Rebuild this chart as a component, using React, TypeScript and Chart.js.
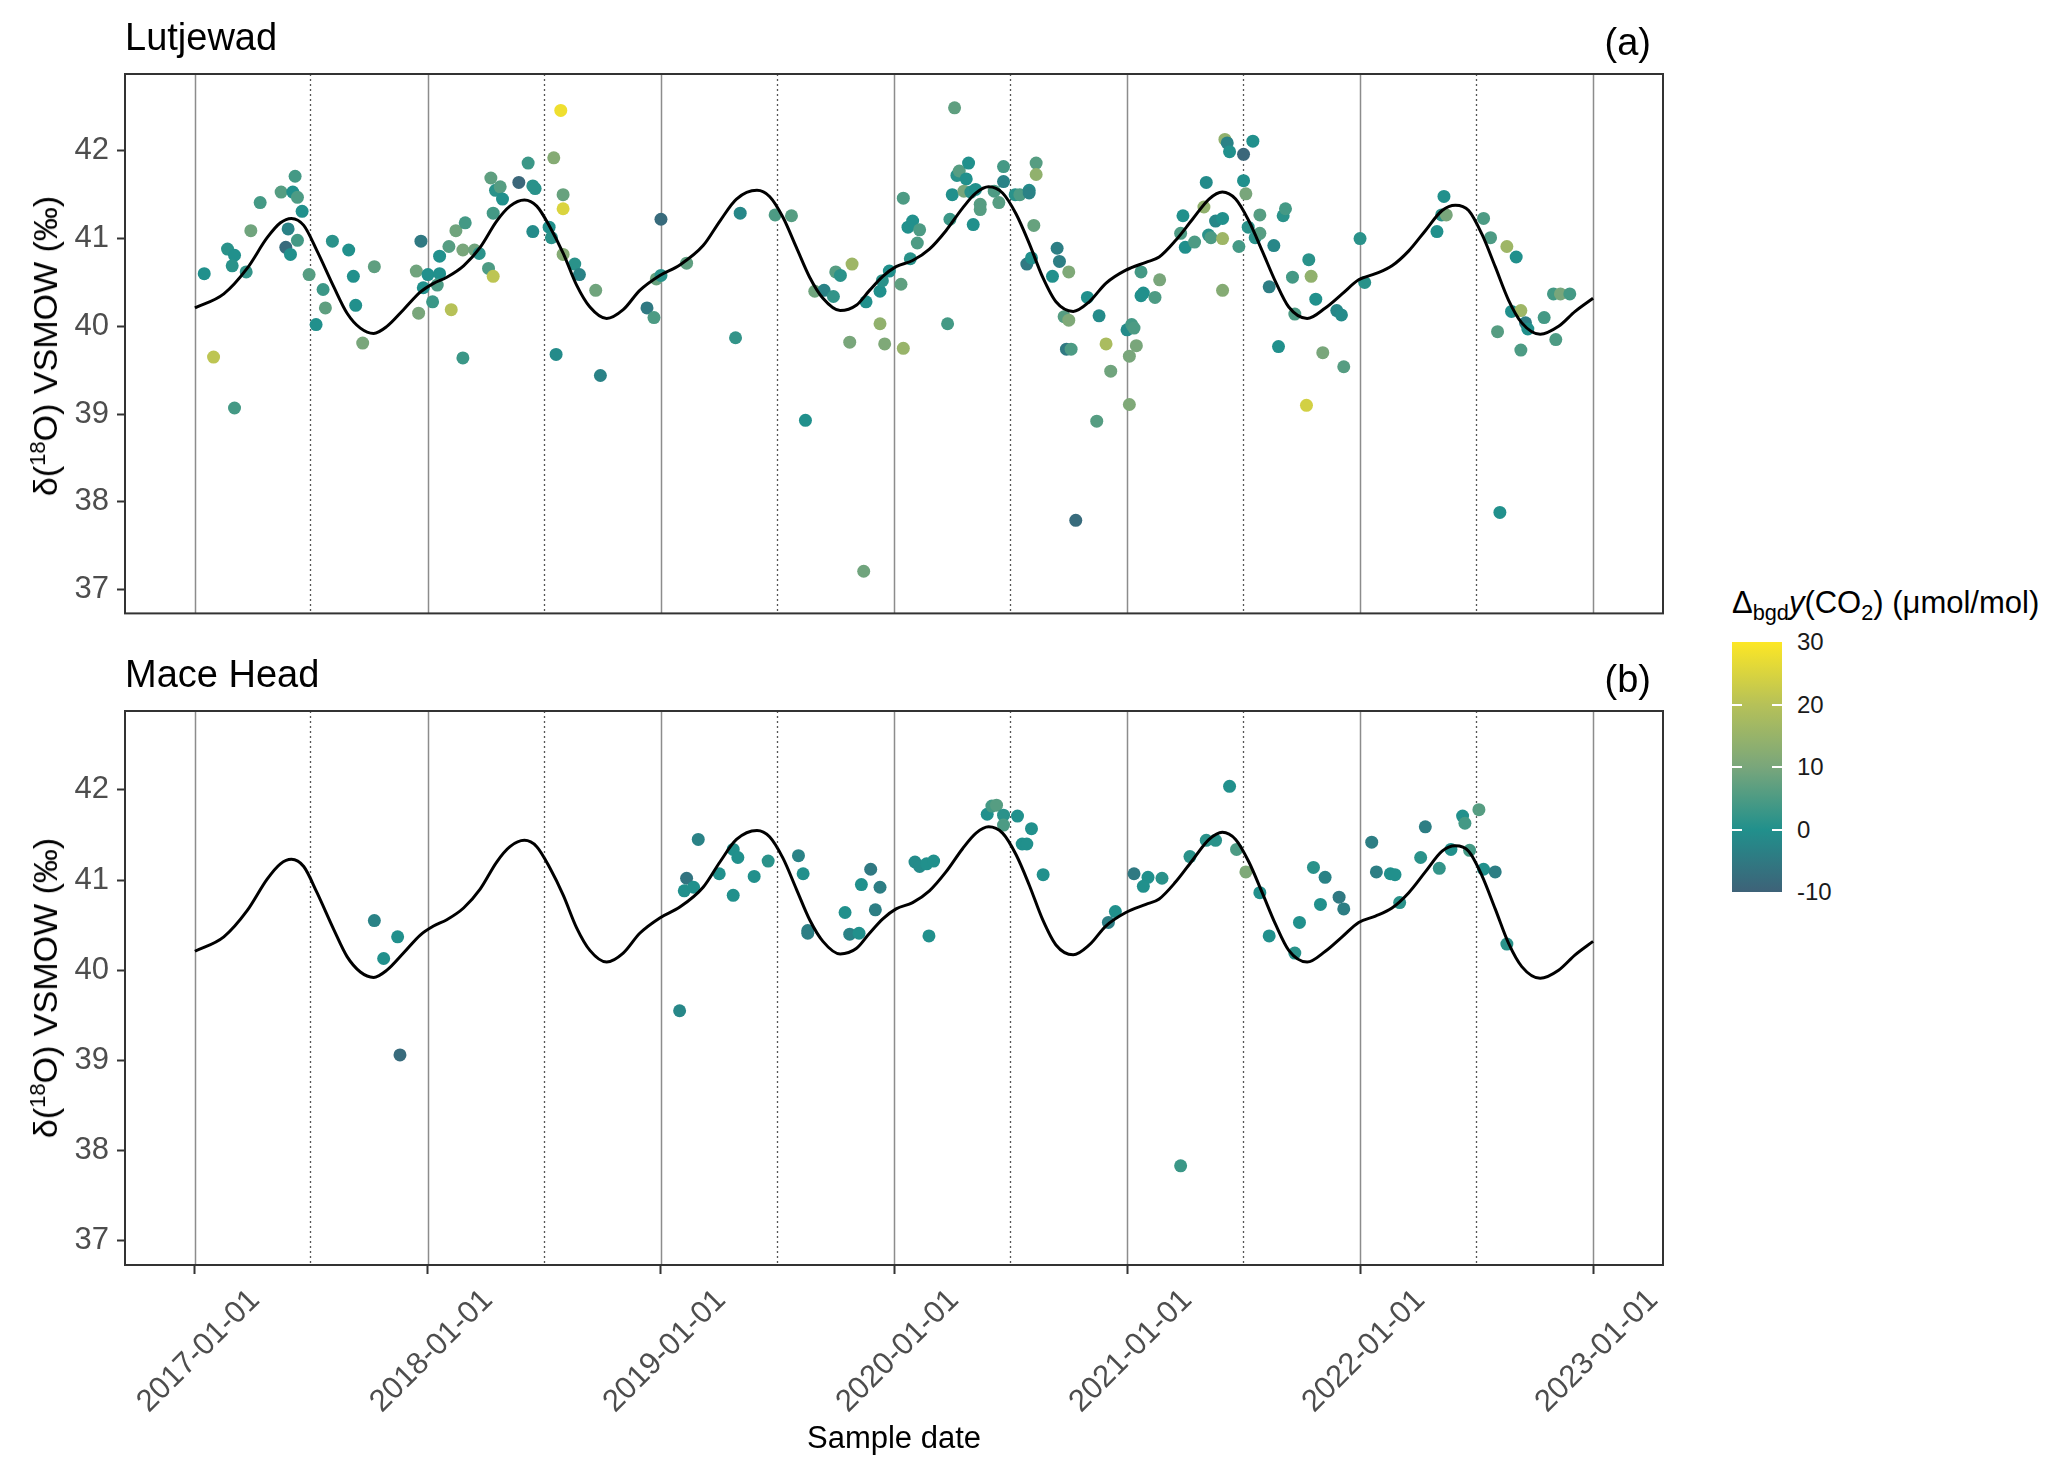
import { useEffect, useRef } from 'react';
import { Chart, registerables } from 'chart.js';

Chart.register(...registerables);

// axes
const yearTicks = [2017, 2018, 2019, 2020, 2021, 2022, 2023];
const midYearLines = [2017.496, 2018.496, 2019.496, 2020.496, 2021.496, 2022.496];
const valueTicks = [37, 38, 39, 40, 41, 42];
const legendTicks = [30, 20, 10, 0, -10];

// fitted curve (same in both panels)
const fitX = [
  2017.0, 2017.124, 2017.224, 2017.31, 2017.367, 2017.414, 2017.467, 2017.524, 2017.596, 2017.653, 2017.71, 2017.767,
  2017.824, 2017.895, 2017.967, 2018.024, 2018.081, 2018.153, 2018.224, 2018.295, 2018.352, 2018.414, 2018.467, 2018.524,
  2018.581, 2018.638, 2018.695, 2018.767, 2018.838, 2018.909, 2018.995, 2019.081, 2019.181, 2019.253, 2019.324, 2019.412,
  2019.466, 2019.524, 2019.581, 2019.638, 2019.695, 2019.769, 2019.838, 2019.895, 2019.952, 2020.009, 2020.08, 2020.152,
  2020.223, 2020.295, 2020.352, 2020.406, 2020.466, 2020.524, 2020.581, 2020.638, 2020.695, 2020.769, 2020.838, 2020.909,
  2020.995, 2021.081, 2021.138, 2021.209, 2021.281, 2021.352, 2021.409, 2021.466, 2021.523, 2021.58, 2021.637, 2021.694,
  2021.773, 2021.851, 2021.923, 2021.994, 2022.066, 2022.137, 2022.209, 2022.28, 2022.352, 2022.409, 2022.466, 2022.523,
  2022.58, 2022.637, 2022.694, 2022.773, 2022.852, 2022.923, 2023.0,
];
const fitY = [
  40.21, 40.37, 40.66, 41.01, 41.18, 41.23, 41.15, 40.86, 40.45, 40.15, 39.98, 39.92,
  40.0, 40.19, 40.39, 40.49, 40.56, 40.69, 40.9, 41.2, 41.37, 41.44, 41.37, 41.13,
  40.83, 40.47, 40.22, 40.09, 40.19, 40.41, 40.58, 40.7, 40.92, 41.2, 41.45, 41.55,
  41.48, 41.24, 40.9, 40.56, 40.32, 40.18, 40.24, 40.41, 40.57, 40.68, 40.75, 40.88,
  41.09, 41.35, 41.52, 41.59, 41.52, 41.28, 40.94, 40.56, 40.28, 40.17, 40.28, 40.49,
  40.64, 40.73, 40.79, 40.98, 41.22, 41.45, 41.53, 41.45, 41.2, 40.86, 40.51, 40.22,
  40.09, 40.21, 40.37, 40.53, 40.6, 40.69, 40.86, 41.09, 41.32, 41.38, 41.32, 41.05,
  40.68, 40.3, 40.04, 39.91, 40.0, 40.17, 40.32,
];

// Lutjewad samples: date (decimal year), d18O, background CO2 enhancement
const lutX = [
  2017.04, 2017.08, 2017.14, 2017.17, 2017.16, 2017.17, 2017.22, 2017.24, 2017.28, 2017.37, 2017.42, 2017.43, 2017.44,
  2017.46, 2017.4, 2017.39, 2017.41, 2017.44, 2017.49, 2017.59, 2017.55, 2017.56, 2017.52, 2017.66, 2017.68, 2017.69,
  2017.77, 2017.72, 2017.97, 2017.95, 2018.0, 2018.05, 2017.98, 2018.04, 2017.96, 2018.02, 2018.05, 2018.09, 2018.12,
  2018.16, 2018.15, 2018.2, 2018.22, 2018.1, 2018.15, 2018.26, 2018.28, 2018.28, 2018.27, 2018.29, 2018.31, 2018.32,
  2018.39, 2018.43, 2018.45, 2018.46, 2018.45, 2018.52, 2018.53, 2018.57, 2018.54, 2018.58, 2018.58, 2018.58, 2018.55,
  2018.63, 2018.65, 2018.72, 2018.74, 2018.94, 2018.97, 2019.0, 2018.98, 2019.0,
  2019.11, 2019.34, 2019.49, 2019.56, 2019.32, 2019.62, 2019.66, 2019.7, 2019.74, 2019.75, 2019.77, 2019.82, 2019.81,
  2019.87, 2019.88, 2019.94, 2019.95, 2019.98, 2019.94, 2019.96, 2020.03, 2020.04, 2020.04, 2020.06, 2020.08, 2020.11,
  2020.1, 2020.07, 2020.23, 2020.26, 2020.24, 2020.25, 2020.27, 2020.28, 2020.32, 2020.31, 2020.3, 2020.33, 2020.35,
  2020.34, 2020.37, 2020.37, 2020.45, 2020.43, 2020.47, 2020.47, 2020.52, 2020.54, 2020.58, 2020.58, 2020.61, 2020.61,
  2020.6, 2020.57, 2020.59, 2020.7, 2020.71, 2020.68, 2020.75, 2020.73, 2020.75, 2020.74, 2020.76, 2020.78, 2020.83,
  2020.88, 2020.87, 2020.91, 2020.93, 2021.0, 2021.02, 2021.03, 2021.01, 2021.04, 2021.01, 2021.06, 2021.07, 2021.06,
  2021.12, 2021.14,
  2021.23, 2021.24, 2021.25, 2021.29, 2021.33, 2021.34, 2021.35, 2021.36, 2021.38, 2021.41, 2021.41, 2021.41, 2021.42,
  2021.43, 2021.44, 2021.5, 2021.54, 2021.5, 2021.51, 2021.48, 2021.52, 2021.55, 2021.57, 2021.57, 2021.63, 2021.67,
  2021.68, 2021.61, 2021.71, 2021.65, 2021.72, 2021.77, 2021.78, 2021.79, 2021.81, 2021.84, 2021.9, 2021.92, 2021.93,
  2022.0, 2022.02, 2022.33, 2022.36, 2022.35, 2022.37, 2022.53, 2022.56, 2022.63, 2022.67, 2022.65, 2022.69, 2022.71,
  2022.72, 2022.59, 2022.69, 2022.6, 2022.79, 2022.84, 2022.83, 2022.86, 2022.9,
];
const lutY = [
  40.6, 39.65, 40.88, 40.81, 40.69, 39.07, 40.62, 41.09, 41.41, 41.53, 41.53, 41.71, 41.47,
  41.31, 41.11, 40.9, 40.82, 40.98, 40.59, 40.97, 40.42, 40.21, 40.02, 40.87, 40.57, 40.24,
  40.68, 39.81, 40.97, 40.63, 40.59, 40.6, 40.44, 40.47, 40.15, 40.28, 40.8, 40.91, 41.09,
  41.18, 40.87, 40.87, 40.83, 40.19, 39.64, 40.66, 40.57, 41.29, 41.69, 41.55, 41.59, 41.45,
  41.64, 41.86, 41.6, 41.57, 41.08, 41.13, 41.01, 42.46, 41.92, 41.5, 41.34, 40.82, 39.68,
  40.71, 40.59, 40.41, 39.44, 40.21, 40.1, 41.22, 40.54, 40.58,
  40.72, 41.29, 41.27, 41.26, 39.87, 38.93, 40.4, 40.41, 40.34, 40.62, 40.58, 40.71, 39.82,
  37.21, 40.28, 40.4, 40.52, 40.63, 40.03, 39.8, 40.48, 39.75, 41.46, 41.13, 41.2, 41.1,
  40.95, 40.77, 40.03, 42.49, 41.22, 41.5, 41.72, 41.77, 41.86, 41.68, 41.54, 41.53, 41.56,
  41.16, 41.39, 41.33, 41.41, 41.54, 41.82, 41.65, 41.5, 41.5, 41.55, 41.52, 41.86, 41.73,
  41.15, 40.71, 40.78, 40.89, 40.74, 40.57, 40.62, 40.11, 40.07, 39.74, 39.74, 37.79, 40.33,
  40.12, 38.92, 39.8, 39.49, 39.96, 40.02, 39.98, 39.66, 39.78, 39.11, 40.62, 40.38, 40.35,
  40.33, 40.53,
  41.06, 41.26, 40.9, 40.96, 41.36, 41.64, 41.04, 41.01, 41.2, 41.23, 41.0, 40.41, 42.13,
  42.09, 41.99, 41.96, 42.11, 41.66, 41.51, 40.91, 41.13, 41.01, 41.27, 41.06, 40.92, 41.26,
  41.34, 40.45, 40.56, 39.77, 40.14, 39.1, 40.76, 40.57, 40.31, 39.7, 40.18, 40.13, 39.54,
  41.0, 40.5, 41.08, 41.48, 41.27, 41.27, 41.23, 41.01, 40.91, 40.79, 40.17, 40.18, 40.04,
  39.97, 39.94, 39.73, 37.88, 40.1, 39.85, 40.37, 40.37, 40.37,
];
const lutCO2 = [
  0, 21, 1, 0, 1, 4, 2, 9, 4, 6, 0, 4, 5,
  0, -3, -8, 0, 4, 6, 1, 3, 7, 0, 0, 0, 0,
  7, 10, -5, 9, 0, 0, 0, 5, 10, 3, 0, 6, 9,
  4, 10, 9, 1, 20, 3, 5, 21, 4, 7, 1, 6, 0,
  -9, 3, 1, 1, -1, 0, 1, 28, 12, 8, 25, 12, -1,
  1, -3, 9, -3, -5, 5, -8, 8, 1,
  7, -2, 5, 6, 2, 0, 9, -3, 2, 6, 1, 16, 10,
  9, 0, 0, 1, 0, 14, 11, 7, 15, 5, 0, 0, 5,
  5, 1, 4, 7, 3, 0, 1, 6, 0, 0, 10, 1, 0,
  0, 6, 6, 6, 5, 4, -3, 1, 5, -1, -3, 6, 14,
  8, -5, 0, -4, -4, 0, 11, 6, 11, -5, 5, -8, 0,
  -1, 6, 18, 9, -1, 4, 5, 10, 10, 11, 4, 0, 0,
  5, 10,
  5, 0, 0, 5, 14, -1, 1, 5, -2, 0, 16, 12, 14,
  -3, 0, -9, 0, 0, 10, 4, 1, 1, 6, 6, -2, 1,
  4, -4, 4, 0, 5, 24, 1, 14, 0, 10, -2, -1, 6,
  1, 1, 0, 0, 1, 10, 5, 5, 16, 0, 0, 16, -4,
  0, 6, 5, 0, 4, 5, 4, 10, 4,
];

// Mace Head samples
const maceX = [
  2017.77, 2017.87, 2017.81, 2017.88, 2019.16, 2019.11, 2019.1, 2019.14, 2019.25, 2019.31, 2019.33, 2019.31, 2019.08,
  2019.4, 2019.46, 2019.59, 2019.61, 2019.63, 2019.63, 2019.79, 2019.81, 2019.85, 2019.86, 2019.9, 2019.94, 2019.92,
  2020.09, 2020.11, 2020.14, 2020.17, 2020.15, 2020.4, 2020.42, 2020.44, 2020.47, 2020.47, 2020.53, 2020.59, 2020.55,
  2020.57, 2020.64, 2020.92, 2020.95, 2021.03, 2021.09, 2021.07, 2021.15, 2021.23, 2021.27, 2021.34, 2021.38, 2021.44,
  2021.47, 2021.51, 2021.57, 2021.61, 2021.72, 2021.74, 2021.8, 2021.85, 2021.83, 2021.91, 2021.93, 2022.05, 2022.07,
  2022.13, 2022.15, 2022.17, 2022.26, 2022.28, 2022.34, 2022.39, 2022.44, 2022.45, 2022.51, 2022.47, 2022.53, 2022.58,
  2022.63,
];
const maceY = [
  40.55, 40.37, 40.13, 39.06, 41.45, 41.02, 40.88, 40.92, 41.07, 41.34, 41.25, 40.83, 39.55,
  41.04, 41.21, 41.27, 41.07, 40.44, 40.41, 40.64, 40.4, 40.41, 40.95, 41.12, 40.92, 40.67,
  41.2, 41.15, 41.18, 41.21, 40.38, 41.73, 41.82, 41.83, 41.72, 41.61, 41.71, 41.57, 41.4,
  41.4, 41.06, 40.53, 40.65, 41.07, 41.03, 40.93, 41.02, 37.83, 41.26, 41.44, 41.44, 42.04,
  41.34, 41.09, 40.86, 40.38, 40.19, 40.53, 41.14, 41.03, 40.73, 40.81, 40.68, 41.42, 41.09,
  41.07, 41.06, 40.75, 41.25, 41.59, 41.13, 41.34, 41.71, 41.63, 41.78, 41.33, 41.12, 41.09,
  40.29,
];
const maceCO2 = [
  -3, 0, 0, -8, -3, -6, 0, 0, 0, 0, 0, 0, -2,
  0, 1, -3, 0, -4, -4, 0, -3, 0, 0, -5, -4, -4,
  -1, -1, 0, 0, 0, 0, 4, 6, 1, 5, 0, 0, 0,
  0, 0, -4, 0, -5, 0, 0, 1, 3, 1, 1, 1, 0,
  5, 11, 0, 0, 1, 0, 1, -3, 0, -5, -4, -4, -4,
  0, 0, 1, 1, -4, 2, 0, 0, 4, 6, 4, 0, -4,
  1,
];

const colourStops: [number, number[]][] = [
  [-10, [62, 98, 120]],
  [0, [33, 144, 140]],
  [10, [121, 166, 123]],
  [20, [182, 193, 88]],
  [30, [253, 231, 37]],
];

function colourFor(v: number) {
  const c = Math.max(-10, Math.min(30, v));
  for (let i = 1; i < colourStops.length; i++) {
    const [v1, c1] = colourStops[i];
    const [v0, c0] = colourStops[i - 1];
    if (c <= v1) {
      const t = (c - v0) / (v1 - v0);
      const rgb = c0.map((a, k) => Math.round(a + (c1[k] - a) * t));
      return `rgb(${rgb.join(',')})`;
    }
  }
  return 'rgb(253,231,37)';
}

const FONT = "'Liberation Sans', Arial, Helvetica, sans-serif";

const panelFrame = {
  id: 'panelFrame',
  beforeDatasetsDraw(chart: any) {
    const { ctx, chartArea: a, scales } = chart;
    const x = scales.x;
    ctx.save();
    ctx.beginPath();
    ctx.rect(a.left, a.top, a.right - a.left, a.bottom - a.top);
    ctx.clip();
    ctx.strokeStyle = '#8c8c8c';
    ctx.lineWidth = 1.5;
    for (const v of yearTicks) {
      const px = Math.round(x.getPixelForValue(v)) + 0.5;
      ctx.beginPath();
      ctx.moveTo(px, a.top);
      ctx.lineTo(px, a.bottom);
      ctx.stroke();
    }
    ctx.strokeStyle = '#555';
    ctx.lineWidth = 1.3;
    ctx.setLineDash([2, 3]);
    for (const v of midYearLines) {
      const px = Math.round(x.getPixelForValue(v)) + 0.5;
      ctx.beginPath();
      ctx.moveTo(px, a.top);
      ctx.lineTo(px, a.bottom);
      ctx.stroke();
    }
    ctx.restore();
  },
  afterDraw(chart: any) {
    const { ctx, chartArea: a } = chart;
    ctx.save();
    ctx.strokeStyle = '#333';
    ctx.lineWidth = 2;
    ctx.strokeRect(a.left, a.top, a.right - a.left, a.bottom - a.top);
    ctx.restore();
  },
};

type PanelProps = {
  top: number;
  height: number;
  padTop: number;
  padBottom: number;
  xs: number[];
  ys: number[];
  cs: number[];
  showX: boolean;
};

function Panel({ top, height, padTop, padBottom, xs, ys, cs, showX }: PanelProps) {
  const chartRef = useRef<HTMLCanvasElement>(null);

  useEffect(() => {
    if (!chartRef.current) return;
    const chart = new Chart(chartRef.current, {
      type: 'scatter',
      data: {
        datasets: [
          {
            type: 'line',
            data: fitX.map((x, i) => ({ x, y: fitY[i] })),
            borderColor: '#000',
            borderWidth: 3,
            pointRadius: 0,
            fill: false,
            cubicInterpolationMode: 'monotone',
            order: 0,
          } as any,
          {
            type: 'scatter',
            data: xs.map((x, i) => ({ x, y: ys[i] })),
            backgroundColor: cs.map(colourFor),
            borderWidth: 0,
            pointRadius: 6.5,
            order: 1,
          },
        ],
      },
      options: {
        animation: false,
        responsive: false,
        events: [],
        layout: { padding: { left: 0, right: 37, top: padTop, bottom: padBottom } },
        plugins: { legend: { display: false }, tooltip: { enabled: false } },
        scales: {
          x: {
            type: 'linear',
            min: 2016.7,
            max: 2023.3,
            display: showX,
            afterBuildTicks: (s: any) => {
              s.ticks = yearTicks.map((v) => ({ value: v }));
            },
            afterFit: (s: any) => {
              s.height = showX ? 210 : 0;
            },
            grid: { drawOnChartArea: false, tickLength: 9, tickColor: '#333', tickWidth: 2 },
            border: { display: false },
            ticks: {
              autoSkip: false,
              minRotation: 45,
              maxRotation: 45,
              labelOffset: 60,
              padding: 8,
              color: '#4d4d4d',
              font: { family: FONT, size: 31 },
              callback: (v: any) => `${v}-01-01`,
            },
          },
          y: {
            type: 'linear',
            min: 36.73,
            max: 42.875,
            afterBuildTicks: (s: any) => {
              s.ticks = valueTicks.map((v) => ({ value: v }));
            },
            afterFit: (s: any) => {
              s.width = 125;
            },
            grid: { drawOnChartArea: false, tickLength: 8, tickColor: '#333', tickWidth: 2 },
            border: { display: false },
            ticks: {
              padding: 8,
              color: '#4d4d4d',
              font: { family: FONT, size: 31 },
            },
          },
        },
      },
      plugins: [panelFrame],
    });
    return () => chart.destroy();
  }, []);

  return (
    <canvas
      ref={chartRef}
      width={1700}
      height={height}
      style={{ position: 'absolute', left: 0, top, width: 1700, height }}
    />
  );
}

function Label({ x, baseline, size, right, children }: any) {
  const style: any = {
    position: 'absolute',
    top: baseline - 0.8465 * size,
    fontSize: size,
    lineHeight: `${size}px`,
    fontFamily: FONT,
    whiteSpace: 'nowrap',
    color: '#000',
  };
  if (right) style.right = 2067 - x;
  else style.left = x;
  return <div style={style}>{children}</div>;
}

function YTitle({ cy }: { cy: number }) {
  return (
    <div
      style={{
        position: 'absolute',
        left: 45,
        top: cy,
        transform: 'translate(-50%, -50%) rotate(-90deg)',
        fontSize: 34,
        lineHeight: '34px',
        fontFamily: FONT,
        whiteSpace: 'nowrap',
      }}
    >
      δ(<sup style={{ fontSize: '65%', lineHeight: 0 }}>18</sup>O) VSMOW (‰)
    </div>
  );
}

function ColourBar() {
  const top = 642;
  const h = 250;
  const gradient = `linear-gradient(to top, ${colourStops
    .map(([v, c]) => `rgb(${c.join(',')}) ${((v + 10) / 40) * 100}%`)
    .join(', ')})`;
  const yOf = (v: number) => top + ((30 - v) / 40) * h;
  return (
    <>
      <Label x={1732} baseline={613} size={31}>
        Δ<sub style={{ fontSize: '70%', lineHeight: 0 }}>bgd</sub>
        <i>y</i>(CO<sub style={{ fontSize: '70%', lineHeight: 0 }}>2</sub>) (μmol/mol)
      </Label>
      <div style={{ position: 'absolute', left: 1732, top, width: 50, height: h, background: gradient }} />
      {legendTicks
        .filter((v) => v > -10 && v < 30)
        .map((v) => (
          <div key={`t${v}`}>
            <div style={{ position: 'absolute', left: 1732, top: yOf(v) - 1, width: 10, height: 2, background: '#fff' }} />
            <div style={{ position: 'absolute', left: 1772, top: yOf(v) - 1, width: 10, height: 2, background: '#fff' }} />
          </div>
        ))}
      {legendTicks.map((v) => (
        <div
          key={`l${v}`}
          style={{
            position: 'absolute',
            left: 1797,
            top: yOf(v) - 12,
            fontSize: 24,
            lineHeight: '24px',
            fontFamily: FONT,
            color: '#1a1a1a',
          }}
        >
          {v}
        </div>
      ))}
    </>
  );
}

export default function App() {
  return (
    <div style={{ position: 'absolute', left: 0, top: 0, width: 2067, height: 1475, background: '#fff', overflow: 'hidden' }}>
      <Panel top={0} height={640} padTop={74} padBottom={22} xs={lutX} ys={lutY} cs={lutCO2} showX={false} />
      <Panel top={660} height={815} padTop={51} padBottom={0} xs={maceX} ys={maceY} cs={maceCO2} showX={true} />
      <Label x={125} baseline={50} size={38}>Lutjewad</Label>
      <Label x={1651} baseline={55} size={38} right>(a)</Label>
      <Label x={125} baseline={687} size={38}>Mace Head</Label>
      <Label x={1651} baseline={692} size={38} right>(b)</Label>
      <YTitle cy={346} />
      <YTitle cy={988} />
      <div
        style={{
          position: 'absolute',
          left: 894,
          top: 1437,
          transform: 'translate(-50%, -50%)',
          fontSize: 31,
          lineHeight: '31px',
          fontFamily: FONT,
          whiteSpace: 'nowrap',
        }}
      >
        Sample date
      </div>
      <ColourBar />
    </div>
  );
}
